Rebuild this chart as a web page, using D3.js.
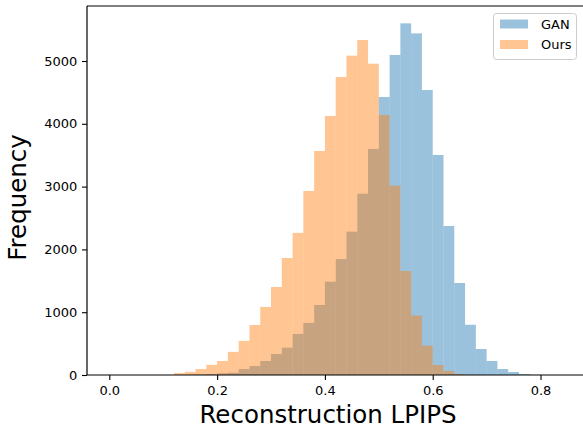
<!DOCTYPE html>
<html>
<head>
<meta charset="utf-8">
<script src="https://cdn.jsdelivr.net/npm/d3@7"></script>
<style>
  html, body { margin: 0; padding: 0; background: #fff; }
  svg { display: block; font-family: "DejaVu Sans", sans-serif; }
</style>
</head>
<body>
<svg id="chart" width="583" height="426"></svg>
<script>
// ---- data ----
const binStarts = [0.12,0.14,0.16,0.18,0.20,0.22,0.24,0.26,0.28,0.30,0.32,0.34,0.36,0.38,0.40,0.42,0.44,0.46,0.48,0.50,0.52,0.54,0.56,0.58,0.60,0.62,0.64,0.66,0.68,0.70,0.72,0.74,0.76,0.78];
const binWidth = 0.02;
const ganCounts = [0,3,6,15,27,37,95,143,223,334,435,653,830,1115,1486,1847,2282,2887,3599,4427,5096,5600,5440,4538,3503,2373,1465,800,414,223,95,48,16,3];
const oursCounts = [30,50,95,162,223,368,544,796,1083,1401,1863,2263,2930,3567,4124,4745,5085,5334,4957,4140,3015,1656,945,467,159,64,16,3,0,0,0,0,0,0];
const seriesNames = ["GAN", "Ours"];
const seriesColors = ["#1f77b4", "#ff7f0e"];
const xTickValues = [0.0, 0.2, 0.4, 0.6, 0.8];
const yTickValues = [0, 1000, 2000, 3000, 4000, 5000];
const xLabel = "Reconstruction LPIPS";
const yLabel = "Frequency";

// ---- layout ----
const svg = d3.select("#chart");
const plotLeft = 87, plotTop = 6, plotBottom = 375, plotRight = 630;
const x = d3.scaleLinear().domain([-0.0414, 0.966]).range([plotLeft, plotRight]);
const y = d3.scaleLinear().domain([0, 5876]).range([plotBottom, plotTop]);
const alpha = 0.45;

const series = [ganCounts, oursCounts];
series.forEach((vals, si) => {
  svg.append("g")
    .selectAll("rect")
    .data(binStarts.map((b, i) => ({ b, v: vals[i] })).filter(d => d.v > 0))
    .join("rect")
    .attr("x", d => x(d.b))
    .attr("width", d => x(d.b + binWidth) - x(d.b))
    .attr("y", d => y(d.v))
    .attr("height", d => y(0) - y(d.v))
    .attr("fill", seriesColors[si])
    .attr("fill-opacity", alpha);
});

// axes
const xAxis = d3.axisBottom(x).tickValues(xTickValues).tickFormat(d3.format(".1f")).tickSize(5).tickPadding(5.5);
const gx = svg.append("g").attr("transform", `translate(0,${plotBottom})`).call(xAxis);
const yAxis = d3.axisLeft(y).tickValues(yTickValues).tickFormat(d3.format("d")).tickSize(5).tickPadding(4.7);
const gy = svg.append("g").attr("transform", `translate(${plotLeft},0)`).call(yAxis);
[gx, gy].forEach(g => {
  g.select(".domain").remove();
  g.selectAll(".tick line").attr("stroke", "#000").attr("stroke-width", 1.1);
  g.selectAll(".tick text").attr("fill", "#000").style("font-family", "DejaVu Sans").style("font-size", "13px");
});

// spines
const spine = svg.append("g").attr("stroke", "#000").attr("stroke-width", 1.2).attr("fill", "none");
spine.append("line").attr("x1", plotLeft).attr("x2", plotLeft).attr("y1", plotTop).attr("y2", plotBottom);
spine.append("line").attr("x1", plotLeft).attr("x2", plotRight).attr("y1", plotBottom).attr("y2", plotBottom);
spine.append("line").attr("x1", plotLeft).attr("x2", plotRight).attr("y1", plotTop).attr("y2", plotTop);

// labels
svg.append("text").attr("x", 328).attr("y", 423).attr("text-anchor", "middle")
  .style("font-size", "24.5px").attr("fill", "#000").text(xLabel);
svg.append("text").attr("transform", "translate(26,197.5) rotate(-90)").attr("text-anchor", "middle")
  .style("font-size", "24.5px").attr("fill", "#000").text(yLabel);

// legend
const lg = svg.append("g");
lg.append("rect").attr("x", 493.5).attr("y", 13.5).attr("width", 83).attr("height", 46).attr("rx", 3)
  .attr("fill", "#fff").attr("fill-opacity", 0.8).attr("stroke", "#cccccc").attr("stroke-width", 1);
seriesNames.forEach((name, i) => {
  const yy = 19.5 + i * 20.5;
  lg.append("rect").attr("x", 500).attr("y", yy).attr("width", 28).attr("height", 9)
    .attr("fill", seriesColors[i]).attr("fill-opacity", alpha);
  lg.append("text").attr("x", 541).attr("y", yy + 9).style("font-size", "13px").attr("fill", "#000").text(name);
});
</script>
</body>
</html>
